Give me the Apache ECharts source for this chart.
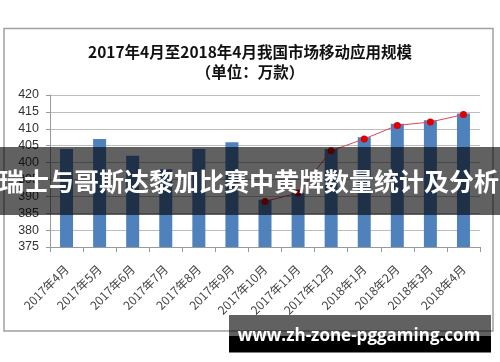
<!DOCTYPE html>
<html>
<head>
<meta charset="utf-8">
<script src="https://cdn.jsdelivr.net/npm/echarts@6/dist/echarts.min.js"></script>
<style>
html,body{margin:0;padding:0;background:#fff;}
#c{width:500px;height:362px;}
</style>
</head>
<body>
<div id="c"></div>
<script>
var categories = ['2017年4月','2017年5月','2017年6月','2017年7月','2017年8月','2017年9月','2017年10月','2017年11月','2017年12月','2018年1月','2018年2月','2018年3月','2018年4月'];
var barValues = [404, 407, 402, 398, 404, 406, 389, 391, 404, 407.5, 411.5, 412.5, 414.5];
var lineValues = [null, null, null, null, null, null, 388.5, 391, 403.5, 407, 411, 412, 414.2];
var yTicks = {min: 375, max: 420, interval: 5};
var titleText = '2017年4月至2018年4月我国市场移动应用规模';
var subtitleText = '（单位：万款）';
var bannerText = '瑞士与哥斯达黎加比赛中黄牌数量统计及分析';
var watermarkText = 'www.zh-zone-pggaming.com';

var chart = echarts.init(document.getElementById('c'), null, {renderer: 'canvas'});
var cjk = "'Noto Sans CJK SC', 'Noto Sans', sans-serif";
chart.setOption({
  animation: false,
  backgroundColor: '#fff',
  title: {
    text: titleText + '\n' + subtitleText,
    left: 'center',
    top: 37,
    textStyle: {fontFamily: cjk, fontSize: 15.5, fontWeight: 'bold', color: '#111', lineHeight: 20}
  },
  grid: {left: 50, right: 20, top: 95, bottom: 115, containLabel: false},
  xAxis: {
    type: 'category',
    data: categories,
    boundaryGap: true,
    axisLine: {lineStyle: {color: '#999', width: 1}},
    axisTick: {show: true, length: 5, lineStyle: {color: '#999'}},
    axisLabel: {rotate: 45, fontSize: 12, color: '#444', margin: 20, fontFamily: cjk, interval: 0}
  },
  yAxis: {
    type: 'value',
    min: yTicks.min, max: yTicks.max, interval: yTicks.interval,
    axisLine: {show: true, lineStyle: {color: '#999'}},
    axisTick: {show: true, length: 4, lineStyle: {color: '#999'}},
    axisLabel: {fontSize: 12.5, color: '#333', margin: 11, fontFamily: "'Liberation Sans', sans-serif"},
    splitLine: {show: true, lineStyle: {color: '#bdbdbd', width: 1}}
  },
  series: [
    {
      type: 'bar',
      data: barValues,
      barWidth: 13,
      itemStyle: {color: '#4f81bd'},
      z: 2
    },
    {
      type: 'line',
      data: lineValues,
      symbol: 'circle',
      symbolSize: 7,
      lineStyle: {color: '#d9485a', width: 1},
      itemStyle: {color: '#e00000'},
      z: 3
    }
  ],
  graphic: [
    {type: 'rect', z: -10, shape: {x: 4, y: 28.5, width: 489, height: 302.5}, style: {fill: 'none', stroke: '#a0a0a0', lineWidth: 1.5}},
    {type: 'rect', z: 100, shape: {x: 0, y: 147, width: 500, height: 68}, style: {fill: 'rgba(0,0,0,0.62)'}},
    {type: 'text', z: 101, x: 249, y: 181, style: {text: bannerText, fill: '#fff', font: "bold 25px 'Noto Sans CJK SC', sans-serif", textAlign: 'center', textVerticalAlign: 'middle'}},
    {type: 'rect', z: 100, shape: {x: 229, y: 315, width: 262, height: 21}, style: {fill: 'rgba(0,0,0,0.62)'}},
    {type: 'rect', z: 100, shape: {x: 229, y: 336, width: 262, height: 16.5}, style: {fill: '#000'}},
    {type: 'text', z: 101, x: 359, y: 336, style: {text: watermarkText, fill: '#fff', font: "bold 17px 'Open Sans', sans-serif", textAlign: 'center', textVerticalAlign: 'middle'}}
  ]
});
</script>
</body>
</html>
